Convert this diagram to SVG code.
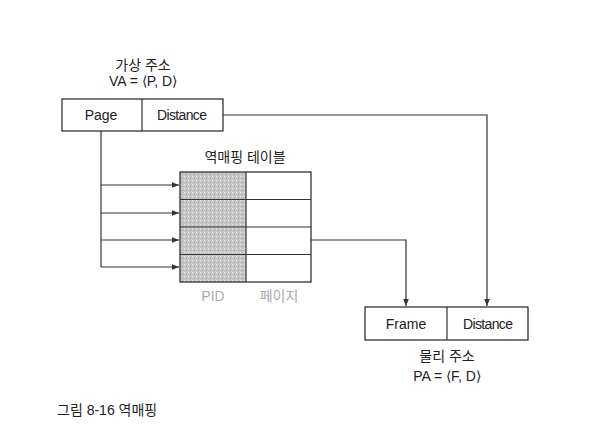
<svg xmlns="http://www.w3.org/2000/svg" width="594" height="427" viewBox="0 0 594 427">
<style>
.t{font-family:"Liberation Sans","Noto Sans CJK KR",sans-serif;font-size:14px;fill:#222;text-anchor:middle}
.g{fill:#aaa}
.box{fill:#fff;stroke:#222;stroke-width:1.2}
.ln{fill:none;stroke:#333;stroke-width:1.2}
</style>
<defs>
<marker id="a" viewBox="0 0 10 10" refX="10" refY="5" markerWidth="7" markerHeight="7" orient="auto" markerUnits="userSpaceOnUse"><path d="M0,1 L10,5 L0,9 Z" fill="#333"/></marker>
<pattern id="dots" width="4" height="4" patternUnits="userSpaceOnUse"><rect width="4" height="4" fill="#c6c6c6"/><rect x="0" y="0" width="1" height="1" fill="#ececec"/><rect x="2" y="2" width="1" height="1" fill="#a0a0a0"/></pattern>
</defs>
<rect width="594" height="427" fill="#fff"/>
<g id="va">
<text class="t" x="143" y="70">가상 주소</text>
<text class="t" x="143" y="86">VA = ⟨P, D⟩</text>
<rect class="box" x="62" y="99" width="161" height="32"/>
<line class="ln" x1="142" y1="99" x2="142" y2="131"/>
<text class="t" x="101" y="120">Page</text>
<text class="t" x="182" y="120" textLength="50">Distance</text>
</g>
<g id="table">
<text class="t" x="245" y="162">역매핑 테이블</text>
<rect x="180" y="172" width="66" height="110" fill="url(#dots)"/>
<rect x="180" y="172" width="131" height="110" fill="none" stroke="#222" stroke-width="1.2"/>
<line class="ln" x1="246" y1="172" x2="246" y2="282"/>
<line class="ln" x1="180" y1="199.5" x2="311" y2="199.5"/>
<line class="ln" x1="180" y1="227" x2="311" y2="227"/>
<line class="ln" x1="180" y1="254.5" x2="311" y2="254.5"/>
<text class="t g" x="213" y="301">PID</text>
<text class="t g" x="279" y="301">페이지</text>
</g>
<g id="pa">
<rect class="box" x="365" y="307" width="163" height="33"/>
<line class="ln" x1="447" y1="307" x2="447" y2="340"/>
<text class="t" x="406" y="329">Frame</text>
<text class="t" x="488" y="329" textLength="50">Distance</text>
<text class="t" x="447" y="361">물리 주소</text>
<text class="t" x="447" y="381">PA = ⟨F, D⟩</text>
</g>
<g id="connectors">
<polyline class="ln" points="101,131 101,267"/>
<line class="ln" x1="101" y1="185" x2="179" y2="185" marker-end="url(#a)"/>
<line class="ln" x1="101" y1="213" x2="179" y2="213" marker-end="url(#a)"/>
<line class="ln" x1="101" y1="240" x2="179" y2="240" marker-end="url(#a)"/>
<line class="ln" x1="101" y1="267" x2="179" y2="267" marker-end="url(#a)"/>
<polyline class="ln" points="311,240 406,240 406,306" marker-end="url(#a)"/>
<polyline class="ln" points="223,115 487,115 487,306" marker-end="url(#a)"/>
</g>
<text class="t" x="57" y="415" style="text-anchor:start">그림 8-16 역매핑</text>
</svg>
